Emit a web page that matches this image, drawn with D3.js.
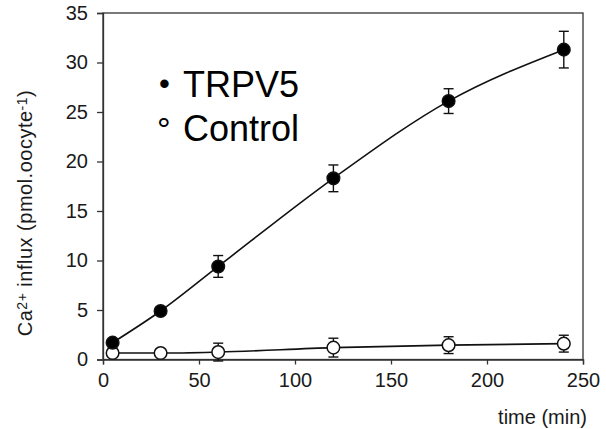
<!DOCTYPE html>
<html><head><meta charset="utf-8">
<script src="https://cdn.jsdelivr.net/npm/d3@7"></script>
<style>
html,body{margin:0;padding:0;background:#fff;}
svg{display:block;font-family:"Liberation Sans",Arial,sans-serif;}
</style></head>
<body>
<svg id="chart" width="606" height="429"></svg>
<script>
const times = [5, 30, 60, 120, 180, 240];
const trpv5 = [1.7, 4.9, 9.4, 18.3, 26.1, 31.3];
const trpv5Err = [0.3, 0.3, 1.1, 1.35, 1.25, 1.85];
const control = [0.65, 0.65, 0.75, 1.2, 1.45, 1.6];
const controlErr = [0.2, 0.2, 0.9, 0.95, 0.85, 0.85];
const xTicks = [0, 50, 100, 150, 200, 250];
const yTicks = [0, 5, 10, 15, 20, 25, 30, 35];
const legendSymbols = ["\u2022", "\u00B0"];
const legendLabels = ["TRPV5", "Control"];

const svg = d3.select("#chart");
const L = 103, R = 583, T = 13, B = 359.5;
const x = d3.scaleLinear().domain([0, 250]).range([L, R]);
const y = d3.scaleLinear().domain([0, 35]).range([B, T]);
const ink = "#1a1a1a";

// frame
svg.append("rect").attr("x", L).attr("y", T).attr("width", R - L).attr("height", B - T)
  .attr("fill", "none").attr("stroke", "#333").attr("stroke-width", 1.3);

// axes
const xAxis = svg.append("g").attr("transform", `translate(0,${B})`)
  .call(d3.axisBottom(x).tickValues(xTicks).tickSize(5).tickPadding(8).tickFormat(d3.format("d")));
const yAxis = svg.append("g").attr("transform", `translate(${L},0)`)
  .call(d3.axisLeft(y).tickValues(yTicks).tickSize(6).tickPadding(9).tickFormat(d3.format("d")));
[xAxis, yAxis].forEach(g => {
  g.select(".domain").attr("stroke", "#333").attr("stroke-width", 1.3);
  g.selectAll(".tick line").attr("stroke", "#333").attr("stroke-width", 1.3);
  g.selectAll(".tick text").attr("fill", ink).style("font-size", "20px")
    .style("font-family", "'Liberation Sans', Arial, sans-serif");
});

// axis titles
svg.append("text").attr("x", 587).attr("y", 424).attr("text-anchor", "end")
  .attr("fill", ink).style("font-size", "20px").text("time (min)");

const yt = svg.append("text").attr("transform", "translate(32,213) rotate(-90)")
  .attr("text-anchor", "middle").attr("fill", ink).style("font-size", "20px")
  .style("letter-spacing", "0.5px");
yt.append("tspan").text("Ca");
yt.append("tspan").attr("dy", -5).style("font-size", "14px").text("2+");
yt.append("tspan").attr("dy", 5).text(" influx (pmol.oocyte");
yt.append("tspan").attr("dy", -5).style("font-size", "14px").text("-1");
yt.append("tspan").attr("dy", 5).text(")");

// series
const series = [
  {vals: control, err: controlErr, fill: "#fff"},
  {vals: trpv5, err: trpv5Err, fill: "#000"}
];
const line = d3.line().x(d => x(d[0])).y(d => y(d[1])).curve(d3.curveMonotoneX);

series.forEach(s => {
  const pts = times.map((t, i) => [t, s.vals[i], s.err[i]]);
  svg.append("path").datum(pts).attr("d", line).attr("fill", "none")
    .attr("stroke", "#111").attr("stroke-width", 1.6);
  const eb = svg.append("g").attr("stroke", "#111").attr("stroke-width", 1.4);
  pts.forEach(p => {
    eb.append("line").attr("x1", x(p[0])).attr("x2", x(p[0]))
      .attr("y1", y(p[1] - p[2])).attr("y2", y(p[1] + p[2]));
    [p[1] - p[2], p[1] + p[2]].forEach(v => {
      eb.append("line").attr("x1", x(p[0]) - 5).attr("x2", x(p[0]) + 5)
        .attr("y1", y(v)).attr("y2", y(v));
    });
  });
  svg.append("g").selectAll("circle").data(pts).join("circle")
    .attr("cx", d => x(d[0])).attr("cy", d => y(d[1])).attr("r", 6.3)
    .attr("fill", s.fill).attr("stroke", "#111").attr("stroke-width", 1.5);
});

// legend
const lg = svg.append("g").style("font-family", "Arial, 'Liberation Sans', sans-serif").attr("fill", "#000");
lg.append("text").attr("x", 159).attr("y", 94).style("font-size", "31px").text(legendSymbols[0]);
lg.append("text").attr("x", 157).attr("y", 141).style("font-size", "34px").text(legendSymbols[1]);
lg.selectAll("text.lab").data(legendLabels).join("text").attr("class", "lab")
  .attr("x", 183).attr("y", (d, i) => 97 + i * 44)
  .style("font-size", "36px").text(d => d);
</script>
</body></html>
